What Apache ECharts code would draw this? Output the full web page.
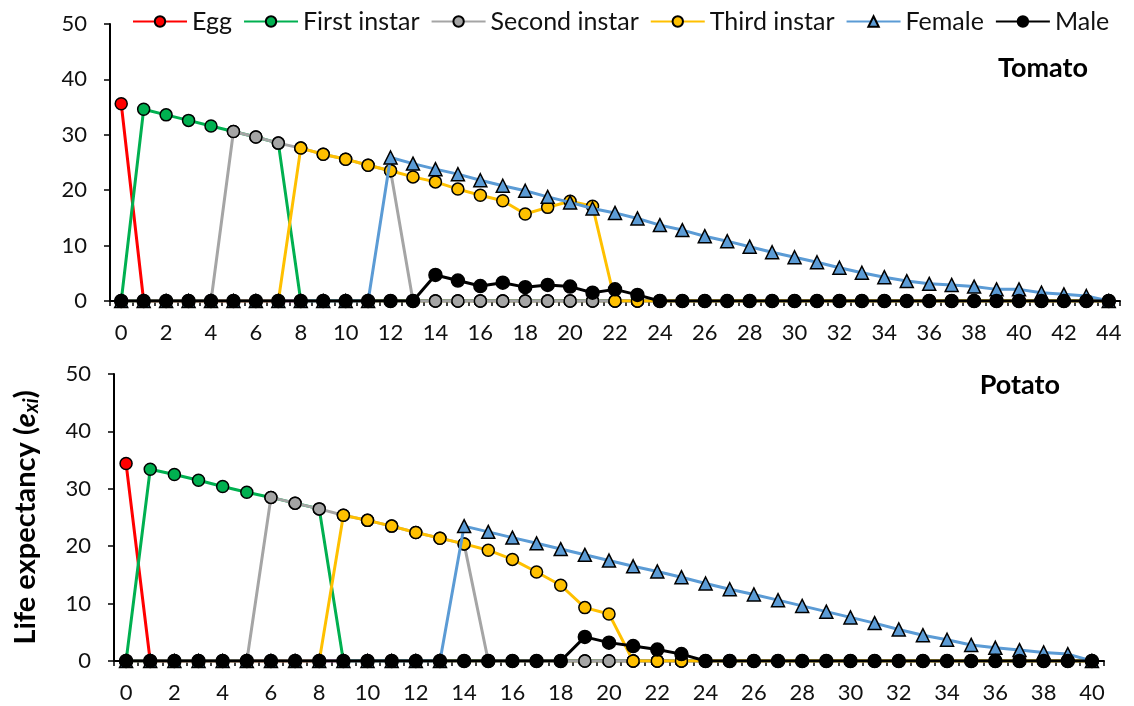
<!DOCTYPE html>
<html>
<head>
<meta charset="utf-8">
<script src="https://cdn.jsdelivr.net/npm/echarts@6/dist/echarts.min.js"></script>
<style>
  html, body { margin: 0; padding: 0; background: #fff; }
  #main { width: 1134px; height: 706px; }
</style>
</head>
<body>
<div id="main"></div>
<script>
// ages (days) for each host plant
const ageTomato = ['0','1','2','3','4','5','6','7','8','9','10','11','12','13','14','15','16','17','18','19','20','21','22',
  '23','24','25','26','27','28','29','30','31','32','33','34','35','36','37','38','39','40','41','42','43','44'];
const agePotato = ['0','1','2','3','4','5','6','7','8','9','10','11','12','13','14','15','16','17','18','19','20',
  '21','22','23','24','25','26','27','28','29','30','31','32','33','34','35','36','37','38','39','40'];

const stageNames = ['Egg', 'First instar', 'Second instar', 'Third instar', 'Female', 'Male'];

// Tomato (0..44)
const tomatoEgg = [35.6,0,0,0,0,0,0,0,0,0, 0,0,0,0,0,0,0,0,0,0, 0,0,0,0,0,0,0,0,0,0, 0,0,0,0,0,0,0,0,0,0, 0,0,0,0,0];
const tomatoFirst = [0,34.6,33.6,32.6,31.6,30.6,29.6,28.5,0,0, 0,0,0,0,0,0,0,0,0,0, 0,0,0,0,0,0,0,0,0,0, 0,0,0,0,0,0,0,0,0,0, 0,0,0,0,0];
const tomatoSecond = [0,0,0,0,0,30.6,29.6,28.5,27.6,26.5, 25.6,24.5,23.5,0,0,0,0,0,0,0, 0,0,0,0,0,0,0,0,0,0, 0,0,0,0,0,0,0,0,0,0, 0,0,0,0,0];
const tomatoThird = [0,0,0,0,0,0,0,0,27.6,26.5, 25.6,24.5,23.5,22.4,21.5,20.2,19.1,18.1,15.7,16.9, 18.0,17.1,0,0,0,0,0,0,0,0, 0,0,0,0,0,0,0,0,0,0, 0,0,0,0,0];
const tomatoFemale = [0,0,0,0,0,0,0,0,0,0, 0,0,25.9,24.8,23.8,22.9,21.8,20.8,19.9,18.8, 17.8,16.7,15.9,14.9,13.7,12.8,11.7,10.8,9.8,8.8, 7.9,7.0,6.0,5.1,4.3,3.6,3.1,2.9,2.6,2.1, 2.1,1.5,1.2,0.9,0];
const tomatoMale = [0,0,0,0,0,0,0,0,0,0, 0,0,0,0,4.7,3.7,2.7,3.3,2.5,2.9, 2.6,1.5,2.1,1.1,0,0,0,0,0,0, 0,0,0,0,0,0,0,0,0,0, 0,0,0,0,0];

// Potato (0..40)
const potatoEgg = [34.4,0,0,0,0,0,0,0,0,0, 0,0,0,0,0,0,0,0,0,0, 0,0,0,0,0,0,0,0,0,0, 0,0,0,0,0,0,0,0,0,0, 0];
const potatoFirst = [0,33.4,32.5,31.5,30.4,29.4,28.5,27.5,26.5,0, 0,0,0,0,0,0,0,0,0,0, 0,0,0,0,0,0,0,0,0,0, 0,0,0,0,0,0,0,0,0,0, 0];
const potatoSecond = [0,0,0,0,0,0,28.5,27.5,26.5,25.4, 24.5,23.5,22.4,21.4,20.4,0,0,0,0,0, 0,0,0,0,0,0,0,0,0,0, 0,0,0,0,0,0,0,0,0,0, 0];
const potatoThird = [0,0,0,0,0,0,0,0,0,25.4, 24.5,23.5,22.4,21.4,20.4,19.3,17.7,15.5,13.2,9.3, 8.2,0,0,0,0,0,0,0,0,0, 0,0,0,0,0,0,0,0,0,0, 0];
const potatoFemale = [0,0,0,0,0,0,0,0,0,0, 0,0,0,0,23.5,22.5,21.5,20.5,19.5,18.5, 17.5,16.5,15.6,14.6,13.5,12.5,11.6,10.6,9.6,8.6, 7.6,6.6,5.5,4.5,3.7,2.8,2.3,1.9,1.5,1.2, 0];
const potatoMale = [0,0,0,0,0,0,0,0,0,0, 0,0,0,0,0,0,0,0,0,4.2, 3.2,2.6,2.0,1.2,0,0,0,0,0,0, 0,0,0,0,0,0,0,0,0,0, 0];

const yTicks = [0, 50, 10];  // min, max, step

const FONT = 'Lato';
const lineColors = ['#FF0000', '#00B050', '#A5A5A5', '#FFC000', '#5B9BD5', '#000000'];

const chart = echarts.init(document.getElementById('main'));

function stageSeries(i, data, axis) {
    return {
        name: stageNames[i],
        type: 'line',
        xAxisIndex: axis,
        yAxisIndex: axis,
        data: data,
        z: 2 + i,
        symbol: i === 4 ? 'triangle' : 'circle',
        symbolSize: i === 4 ? 13 : (i === 5 ? 13 : 12),
        lineStyle: { color: lineColors[i], width: 3 },
        itemStyle: { color: lineColors[i], borderColor: '#000', borderWidth: 1.5 },
        emphasis: { disabled: true }
    };
}

const tomatoSets = [tomatoEgg, tomatoFirst, tomatoSecond, tomatoThird, tomatoFemale, tomatoMale];
const potatoSets = [potatoEgg, potatoFirst, potatoSecond, potatoThird, potatoFemale, potatoMale];

let series = [];
tomatoSets.forEach(function (d, i) { series.push(stageSeries(i, d, 0)); });
potatoSets.forEach(function (d, i) { series.push(stageSeries(i, d, 1)); });

function xAxisFor(cats, grid) {
    return {
        type: 'category',
        gridIndex: grid,
        data: cats,
        boundaryGap: true,
        axisLine: { lineStyle: { color: '#000', width: 2 } },
        axisTick: { show: true, interval: 0, length: 5, lineStyle: { color: '#000', width: 1.5 } },
        axisLabel: { interval: 1, color: '#111', fontFamily: FONT, fontSize: 22, margin: 21 },
        splitLine: { show: false }
    };
}

function yAxisFor(grid) {
    return {
        type: 'value',
        gridIndex: grid,
        min: yTicks[0],
        max: yTicks[1],
        interval: yTicks[2],
        axisLine: { show: true, lineStyle: { color: '#000', width: 2 } },
        axisTick: { show: true, length: 6, lineStyle: { color: '#000', width: 1.5 } },
        axisLabel: { color: '#111', fontFamily: FONT, fontSize: 22, margin: 23 },
        splitLine: { show: false }
    };
}

let yBottom = yAxisFor(1);
yBottom.name = '{n|Life expectancy (}{i|e}{s|xi}{n|)}';
yBottom.nameLocation = 'middle';
yBottom.nameRotate = 90;
yBottom.nameGap = 72;
yBottom.nameTextStyle = {
    fontFamily: FONT,
    fontSize: 29,
    fontWeight: 'bold',
    color: '#000',
    rich: {
        n: { fontFamily: FONT, fontSize: 29, fontWeight: 'bold', color: '#000' },
        i: { fontFamily: FONT, fontSize: 29, fontWeight: 'bold', fontStyle: 'italic', color: '#000' },
        s: { fontFamily: FONT, fontSize: 20, fontWeight: 'bold', fontStyle: 'italic', color: '#000', padding: [12, 0, 0, 0] }
    }
};

chart.setOption({
    animation: false,
    backgroundColor: '#fff',
    title: [
        { text: 'Tomato', right: 46, top: 55, padding: 0,
          textStyle: { fontFamily: FONT, fontSize: 27, fontWeight: 'bold', color: '#000' } },
        { text: 'Potato', right: 74, top: 372, padding: 0,
          textStyle: { fontFamily: FONT, fontSize: 27, fontWeight: 'bold', color: '#000' } }
    ],
    legend: {
        data: stageNames,
        left: 132,
        right: 0,
        top: 9,
        padding: 0,
        itemWidth: 54,
        itemHeight: 13,
        itemGap: 11,
        textStyle: { fontFamily: FONT, fontSize: 25, color: '#111' }
    },
    grid: [
        { left: 110, top: 24, width: 1010, height: 277 },
        { left: 114, top: 374, width: 990, height: 287 }
    ],
    xAxis: [xAxisFor(ageTomato, 0), xAxisFor(agePotato, 1)],
    yAxis: [yAxisFor(0), yBottom],
    series: series
});
</script>
</body>
</html>
